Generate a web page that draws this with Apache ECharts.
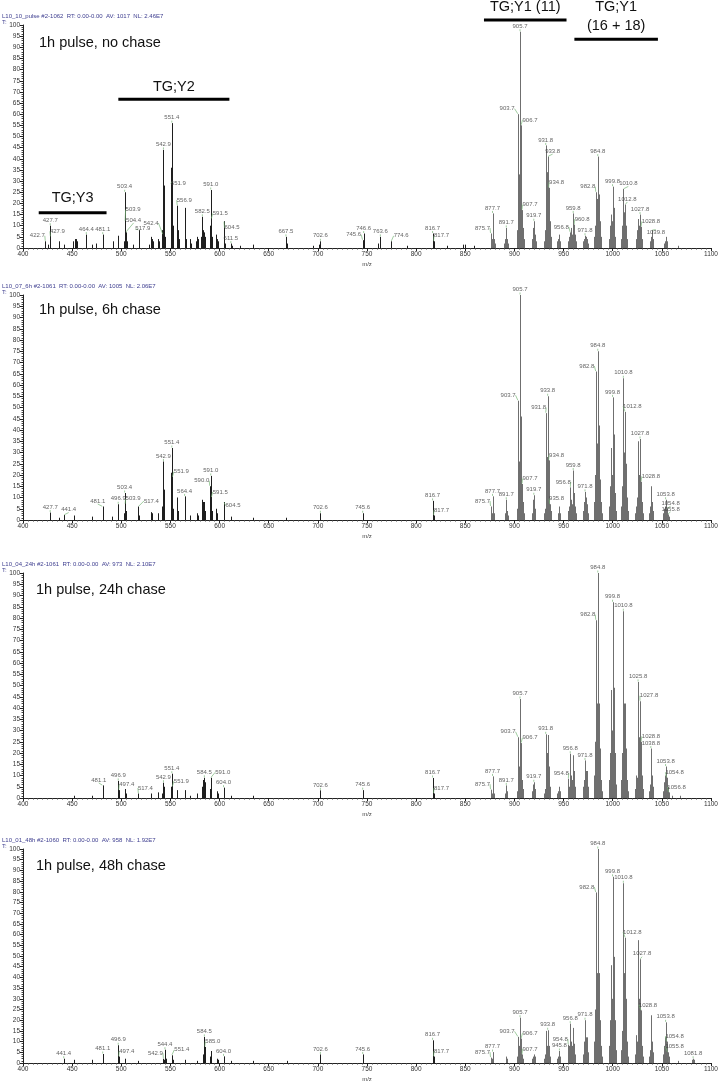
<!DOCTYPE html>
<html><head><meta charset="utf-8">
<script src="https://cdn.jsdelivr.net/npm/echarts@6/dist/echarts.min.js"></script>
<style>html,body{margin:0;padding:0;background:#fff}#c{width:718px;height:1081px}</style>
</head><body><div id="c"></div>
<script>
// ---------------- DATA ----------------
const xTickValues = [400,450,500,550,600,650,700,750,800,850,900,950,1000,1050,1100];
const panelTitles = ['1h pulse, no chase','1h pulse, 6h chase','1h pulse, 24h chase','1h pulse, 48h chase'];
const panelHeaders = [
  'L10_10_pulse #2-1062  RT: 0.00-0.00  AV: 1017  NL: 2.46E7',
  'L10_07_6h #2-1061  RT: 0.00-0.00  AV: 1005  NL: 2.06E7',
  'L10_04_24h #2-1061  RT: 0.00-0.00  AV: 973  NL: 2.10E7',
  'L10_01_48h #2-1060  RT: 0.00-0.00  AV: 958  NL: 1.92E7'
];
// labeled peaks [m/z, relative abundance]
const p1Labeled = [[422.7,3],[427.7,10],[427.9,5],[464.4,6],[481.1,6],[503.4,25],[503.9,12],[504.4,7],[517.9,8],[542.4,6],[542.9,44],[551.4,56],[551.9,30],[556.9,19],[582.5,14],[591.0,26],[591.5,13],[604.5,12],[611.5,2],[667.5,5],[702.6,3],[745.6,3.5],[746.6,6.5],[763.6,5],[774.6,3],[816.7,6.5],[817.7,3],[875.7,6.5],[877.7,15.5],[891.7,9],[903.7,60],[905.7,97],[906.7,55],[907.7,17],[919.7,12],[931.8,46],[933.8,41],[934.8,27],[956.8,7],[959.8,15.5],[960.8,10.5],[971.8,5.5],[982.8,25],[984.8,41],[999.8,27.5],[1010.8,26.5],[1012.8,19.5],[1027.8,15],[1028.8,9.5],[1039.8,8]];
const p1Minor = [[425.7,1.5],[436.4,3],[441.4,1.5],[450.4,3],[452.4,4],[454.4,4],[455.4,3],[470.4,1.5],[474.4,2],[491.4,3],[496.9,5.5],[502.4,3],[505.4,3],[512.4,1.5],[518.4,4],[528.4,1.5],[530.4,5],[531.4,4],[532.4,3],[537.4,4],[538.4,3],[541.9,8],[543.4,28],[543.9,10],[544.4,5],[550.9,36],[552.4,10],[552.9,5],[557.4,8],[558.4,4],[564.4,18],[564.9,7],[565.4,4],[570.4,4],[571.4,2],[576.5,3],[577.5,5],[578.5,4],[581.5,5],[583.0,8],[583.5,6],[584.5,7],[585.0,5],[590.5,10],[592.0,5],[596.5,6],[597.5,4],[598.5,3],[605.0,4],[606.0,2],[612.5,1],[620.5,1],[634.5,1.5],[668.5,2],[695.5,1],[701.6,1.5],[761.6,2],[790.6,1],[831.7,1],[847.7,1.5],[849.7,1.5],[858.7,1],
  [876.7,4],[878.7,8],[879.7,4],[880.7,2],[889.7,2],[890.7,4],[892.7,4],[893.7,2],[902.7,8],[904.7,33],[908.7,9],[909.7,4],[917.7,4],[918.7,9],[920.7,6],[921.7,3],[929.8,3],[930.8,8],[932.8,34],[935.8,12],[936.8,5],[943.8,3],[944.8,4],[945.8,6],[946.8,3],[954.8,3],[955.8,5],[957.8,9],[958.8,6],[961.8,6],[962.8,3],[969.8,3],[970.8,4],[972.8,5],[973.8,4],[974.8,2],[980.8,5],[981.8,10],[983.8,22],[985.8,24],[986.8,12],[987.8,5],[995.8,4],[996.8,10],[997.8,15],[998.8,12],[1000.8,18],[1001.8,12],[1002.8,5],[1008.8,4],[1009.8,10],[1011.8,16],[1013.8,10],[1014.8,4],[1023.8,4],[1024.8,8],[1025.8,13],[1026.8,10],[1029.8,4],[1037.8,3],[1038.8,5],[1040.8,4],[1051.8,2],[1052.8,3],[1053.8,5],[1054.8,3],[1066.8,1]];

const p2Labeled = [[427.7,3.3],[441.4,2.2],[481.1,6],[496.9,7],[503.4,12],[503.9,7],[517.4,6],[542.9,26],[551.4,32],[551.9,19],[564.4,10.5],[590.0,15],[591.0,19.6],[591.5,10],[604.5,8],[702.6,3],[745.6,3],[816.7,8.5],[817.7,2],[875.7,6],[877.7,10.5],[891.7,9],[903.7,53],[905.7,100],[907.7,16],[919.7,11],[931.8,47.5],[933.8,55],[934.8,26.5],[935.8,7],[956.8,14.5],[959.8,22],[971.8,12.5],[982.8,66],[984.8,75],[999.8,54.5],[1010.8,63],[1012.8,48],[1027.8,36],[1028.8,17],[1053.8,9],[1054.8,5],[1055.8,2.5]];
const p2Minor = [[436.4,1],[451.4,2],[470.4,1.5],[490.4,1.5],[502.4,3],[504.4,4],[518.4,2],[530.4,3.5],[531.4,3],[537.4,3],[541.9,6],[543.4,13.5],[543.9,4],[550.9,21],[552.4,5],[556.9,10],[557.4,4],[564.9,4],[570.4,2],[577.5,3],[578.5,2],[582.5,9],[583.0,8],[584.5,8],[585.0,4],[590.5,8],[592.0,4],[596.5,5],[597.5,3],[605.0,2.5],[611.5,1.5],[634.5,1],[667.5,1],
  [876.7,3],[878.7,6],[879.7,3],[890.7,3],[892.7,4],[893.7,2],[902.7,5],[904.7,26],[906.7,46],[908.7,8],[909.7,3],[917.7,3],[918.7,9],[920.7,5],[929.8,3],[930.8,5],[932.8,28],[936.8,4],[944.8,3],[945.8,6],[946.8,3],[954.8,4],[955.8,6],[957.8,9],[958.8,7],[960.8,12],[961.8,6],[962.8,3],[969.8,4],[970.8,8],[972.8,10],[973.8,7],[974.8,3],[980.8,8],[981.8,20],[983.8,34],[985.8,42],[986.8,18],[987.8,8],[988.8,3],[995.8,6],[996.8,15],[997.8,32],[998.8,20],[1000.8,38],[1001.8,25],[1002.8,12],[1003.8,4],[1008.8,6],[1009.8,15],[1011.8,30],[1013.8,25],[1014.8,10],[1015.8,4],[1022.8,3],[1023.8,6],[1024.8,10],[1025.8,35],[1026.8,20],[1029.8,8],[1030.8,3],[1036.8,3],[1037.8,6],[1038.8,15],[1039.8,8],[1040.8,4],[1050.8,3],[1051.8,5],[1052.8,6],[1056.8,1.5]];

const p3Labeled = [[481.1,5.6],[496.9,7.6],[497.4,3.5],[517.4,2],[542.9,6.8],[551.4,10.8],[551.9,5],[584.5,9],[591.0,9],[604.0,4.6],[702.6,3.4],[745.6,3.5],[816.7,8.9],[817.7,2],[875.7,3.7],[877.7,9.6],[891.7,5.6],[903.7,27],[905.7,44],[906.7,24.4],[919.7,7],[931.8,28.3],[954.8,8.6],[956.8,19.7],[971.8,16.7],[982.8,79],[984.8,100],[999.8,87],[1010.8,83],[1025.8,51.6],[1027.8,43],[1028.8,25],[1038.8,22],[1053.8,14],[1054.8,9],[1056.8,2.5]];
const p3Minor = [[451.4,1],[470.4,1],[503.4,4],[504.4,2],[530.4,2],[537.4,2.5],[541.9,2],[543.4,5],[550.9,5],[556.9,3.5],[564.4,3.5],[570.4,1],[577.5,2],[582.5,5],[583.0,8],[585.0,7],[590.5,4],[591.5,4],[597.0,3],[598.0,2],[611.5,1],[634.5,1],
  [876.7,2],[878.7,5],[879.7,2],[890.7,2],[892.7,3],[902.7,3],[904.7,14],[907.7,8],[908.7,4],[917.7,3],[918.7,6],[920.7,4],[929.8,2],[930.8,4],[932.8,20],[933.8,28],[934.8,14],[935.8,5],[943.8,2],[944.8,3],[945.8,5],[946.8,3],[955.8,5],[957.8,10],[958.8,8],[959.8,19],[960.8,12],[961.8,5],[969.8,5],[970.8,8],[972.8,12],[973.8,12],[974.8,5],[980.8,10],[981.8,25],[983.8,42],[985.8,42],[986.8,22],[987.8,8],[988.8,3],[995.8,8],[996.8,20],[997.8,48],[998.8,30],[1000.8,49],[1001.8,39],[1002.8,20],[1003.8,6],[1008.8,8],[1009.8,20],[1011.8,42],[1012.8,42],[1013.8,22],[1014.8,8],[1015.8,3],[1022.8,4],[1023.8,10],[1024.8,9],[1026.8,27],[1029.8,10],[1030.8,4],[1036.8,3],[1037.8,6],[1039.8,10],[1040.8,5],[1050.8,3],[1051.8,7],[1052.8,10],[1055.8,5],[1060.8,1],[1068.8,1]];

const p4Labeled = [[441.4,2],[481.1,4.2],[496.9,8.3],[497.4,3],[542.9,2],[544.4,6.2],[551.4,3.6],[584.5,12.2],[585.0,7.5],[604.0,3.1],[702.6,4],[745.6,4],[816.7,10.6],[817.7,3],[875.7,2.5],[877.7,5.1],[903.7,12.2],[905.7,21.2],[906.7,11.4],[907.7,4],[933.8,15.3],[945.8,5.6],[954.8,8.6],[956.8,18.4],[971.8,20],[982.8,79.7],[984.8,100],[999.8,87],[1010.8,84],[1012.8,58.5],[1027.8,48.5],[1028.8,24.6],[1053.8,19],[1054.8,10],[1055.8,5],[1081.8,2]];
const p4Minor = [[451.4,1.5],[470.4,1.5],[503.4,2],[517.4,1],[543.4,1.5],[545.4,2],[551.9,2],[552.4,1.5],[564.4,1.5],[577.5,1],[583.0,4],[590.5,3],[591.0,5.6],[597.0,2],[598.0,1.5],[611.5,1],[634.5,1],[668.5,1],
  [876.7,2],[878.7,3],[891.7,3],[892.7,2],[902.7,3],[904.7,8],[908.7,2],[917.7,2],[918.7,3],[919.7,4],[920.7,3],[929.8,2],[930.8,4],[931.8,15],[932.8,8],[934.8,8],[935.8,3],[943.8,2],[944.8,3],[946.8,3],[955.8,8],[957.8,10],[958.8,8],[959.8,16.4],[960.8,9],[961.8,4],[969.8,4],[970.8,10],[972.8,12],[973.8,12],[974.8,5],[980.8,10],[981.8,25],[983.8,42],[985.8,42],[986.8,20],[987.8,8],[988.8,3],[995.8,8],[996.8,20],[997.8,45.7],[998.8,30],[1000.8,45],[1001.8,49.6],[1002.8,20],[1003.8,6],[1008.8,6],[1009.8,15],[1011.8,42],[1013.8,30],[1014.8,10],[1015.8,3],[1022.8,4],[1023.8,13],[1024.8,10],[1025.8,57.4],[1026.8,30],[1029.8,8],[1030.8,3],[1036.8,3],[1037.8,6],[1038.8,22.3],[1039.8,10],[1040.8,5],[1050.8,4],[1051.8,8],[1052.8,12],[1056.8,3],[1066.8,1],[1080.8,1.5],[1082.8,1.5]];

// annotation bars in panel 1
const annoLabels = ['TG;Y3','TG;Y2','TG;Y1 (11)','TG;Y1\n(16 + 18)'];
const annoFrom   = [416, 497, 869, 961];
const annoTo     = [485, 610, 953, 1046];
const annoLevel  = [15.8, 66.7, 102.2, 93.6];

// ---------------- LAYOUT / STYLE ----------------
// label nudges (pixels) for offset peak labels, like the instrument's callouts
const labelShift = [
  {'422.7':[-8,0],'427.9':[7,0],'503.9':[8,-6],'504.4':[8,-7],'517.9':[4,4],'542.4':[-12,-6],'551.9':[6,8],'556.9':[7,0],'591.5':[9,0],'604.5':[8,12],'745.6':[-9,0],'774.6':[10,0],'817.7':[8,0],'875.7':[-8,0],'903.7':[-11,0],'906.7':[9,0],'907.7':[8,0],'933.8':[5,0],'934.8':[8,0],'956.8':[-9,0],'960.8':[8,0],'982.8':[-8,0],'1010.8':[5,0],'1012.8':[2,0],'1028.8':[10,0],'1039.8':[4,8]},
  {'441.4':[5,0],'481.1':[-5,0],'503.9':[8,0],'517.4':[13,0],'551.9':[9,0],'590.0':[-8,0],'591.5':[9,0],'604.5':[9,9],'817.7':[8,0],'875.7':[-8,0],'903.7':[-10,0],'907.7':[8,0],'931.8':[-7,0],'934.8':[8,0],'935.8':[7,0],'956.8':[-7,0],'982.8':[-9,0],'1012.8':[7,0],'1028.8':[10,0],'1054.8':[4,0],'1055.8':[3,0]},
  {'481.1':[-4,0],'497.4':[8,0],'517.4':[7,0],'551.9':[9,0],'591.0':[12,0],'817.7':[8,0],'875.7':[-8,0],'903.7':[-10,0],'906.7':[9,0],'954.8':[-7,0],'982.8':[-8,0],'1027.8':[9,0],'1028.8':[10,0],'1054.8':[8,0],'1056.8':[8,0]},
  {'497.4':[8,0],'542.9':[-8,0],'551.4':[10,0],'585.0':[8,0],'817.7':[8,0],'875.7':[-8,0],'903.7':[-11,0],'906.7':[9,0],'907.7':[8,0],'954.8':[-8,0],'982.8':[-9,0],'1012.8':[7,0],'1027.8':[2,0],'1028.8':[7,0],'1054.8':[8,0],'1055.8':[7,0]}
];
const labeled = [p1Labeled, p2Labeled, p3Labeled, p4Labeled];
const minor = [p1Minor, p2Minor, p3Minor, p4Minor];
const gTop = [25, 295, 573, 849];
const gHeight = [223, 225, 225, 214];
const titleY = [43, 310, 590, 866];
const titleX = [39, 39, 36, 36];
const annoTextGap = [15, 12, 13, 23];
const FONT = '"Liberation Sans", Arial, sans-serif';

const chart = echarts.init(document.getElementById('c'), null, {renderer: 'canvas'});

function renderStick(params, api) {
  const x = api.value(0), y = api.value(1);
  const p0 = api.coord([x, 0]), p1 = api.coord([x, y]);
  const px = Math.round(p0[0]) + 0.5;
  return {type: 'line', shape: {x1: px, y1: p0[1], x2: px, y2: p1[1]},
    style: {stroke: x > 860 ? '#6f6f6f' : '#1e1e1e', lineWidth: 1}};
}

const grids = [], xAxes = [], yAxes = [], series = [];
for (let i = 0; i < 4; i++) {
  grids.push({left: 23, right: 7, top: gTop[i], height: gHeight[i], containLabel: false, outerBoundsMode: 'none'});
  xAxes.push({type: 'value', gridIndex: i, min: 400, max: 1100, interval: 50,
    name: 'm/z', nameLocation: 'middle', nameGap: 13,
    nameTextStyle: {fontSize: 6, color: '#444', fontFamily: FONT},
    axisLine: {lineStyle: {color: '#222', width: 1}},
    axisTick: {length: 3, lineStyle: {color: '#222'}},
    minorTick: {show: true, splitNumber: 10, length: 1.5, lineStyle: {color: '#444'}},
    splitLine: {show: false},
    axisLabel: {fontSize: 6.5, color: '#333', margin: 3, fontFamily: FONT,
      formatter: v => String(v)}
  });
  yAxes.push({type: 'value', gridIndex: i, min: 0, max: 100, interval: 5,
    name: 'Relative Abundance', nameLocation: 'middle', nameGap: 14, nameRotate: 90,
    nameTextStyle: {fontSize: 6.5, color: '#333', fontFamily: FONT},
    axisLine: {show: true, lineStyle: {color: '#222', width: 1}},
    axisTick: {show: true, length: 3, lineStyle: {color: '#222'}},
    minorTick: {show: true, splitNumber: 5, length: 1.5, lineStyle: {color: '#444'}},
    splitLine: {show: false},
    axisLabel: {fontSize: 6.5, color: '#333', margin: 3, fontFamily: FONT}
  });
  const all = labeled[i].concat(minor[i]).sort((a, b) => a[0] - b[0]);
  series.push({type: 'custom', xAxisIndex: i, yAxisIndex: i, renderItem: renderStick,
    data: all, silent: true, animation: false, clip: false,
    encode: {x: 0, y: 1}});
  const shifts = labelShift[i], pts = labeled[i];
  series.push({type: 'scatter', xAxisIndex: i, yAxisIndex: i, data: pts,
    symbolSize: 1, itemStyle: {color: 'rgba(0,0,0,0)'}, silent: true, animation: false,
    labelLayout: function (p) {
      const s = shifts[pts[p.dataIndex][0].toFixed(1)];
      return s ? {dx: s[0], dy: s[1], hideOverlap: false} : {hideOverlap: false};
    },
    labelLine: {show: true, length2: 0, lineStyle: {color: '#79b879', width: 0.7}},
    label: {show: true, position: 'top', distance: 2, fontSize: 6, color: '#3a3a3a',
      fontFamily: FONT, formatter: p => p.value[0].toFixed(1)}});
}

chart.setOption({
  backgroundColor: '#fff', animation: false,
  grid: grids, xAxis: xAxes, yAxis: yAxes, series: series
});

const gfx = [];
for (let i = 0; i < 4; i++) {
  gfx.push({type: 'text', left: 2, top: gTop[i] - 12,
    style: {text: panelHeaders[i], fontSize: 6, fill: '#3d3d8f', fontFamily: FONT}});
  gfx.push({type: 'text', left: 2, top: gTop[i] - 6,
    style: {text: 'T:', fontSize: 6, fill: '#3d3d8f', fontFamily: FONT}});
  gfx.push({type: 'text', left: titleX[i], top: titleY[i] - 8,
    style: {text: panelTitles[i], fontSize: 14.5, fill: '#111', fontFamily: FONT}});
}
for (let k = 0; k < annoLabels.length; k++) {
  const a = chart.convertToPixel({gridIndex: 0}, [annoFrom[k], annoLevel[k]]);
  const b = chart.convertToPixel({gridIndex: 0}, [annoTo[k], annoLevel[k]]);
  gfx.push({type: 'line', shape: {x1: a[0], y1: a[1], x2: b[0], y2: b[1]},
    style: {stroke: '#000', lineWidth: 3}});
  gfx.push({type: 'text', x: (a[0] + b[0]) / 2, y: a[1] - annoTextGap[k],
    style: {text: annoLabels[k], fontSize: 14.5, fill: '#111', fontFamily: FONT,
      align: 'center', verticalAlign: 'middle', textAlign: 'center', textVerticalAlign: 'middle', lineHeight: 19}});
}
chart.setOption({graphic: gfx});
</script></body></html>
